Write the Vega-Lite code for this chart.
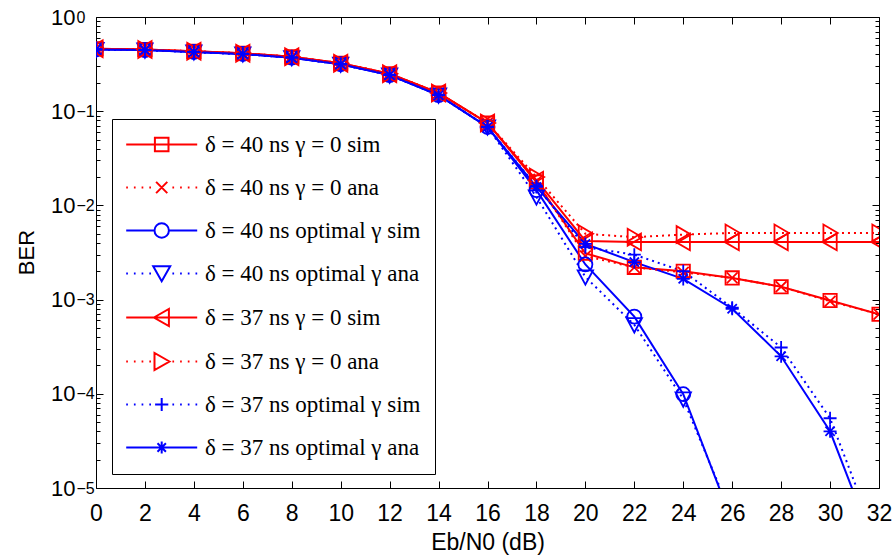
{
  "$schema": "https://vega.github.io/schema/vega-lite/v6.json",
  "width": 783,
  "height": 471,
  "autosize": {"type": "none"},
  "padding": {"left": 96, "top": 17, "right": 17, "bottom": 68},
  "background": "white",
  "config": {
    "view": {"stroke": "black", "strokeWidth": 1},
    "axis": {
      "grid": false,
      "domain": false,
      "labelFont": "Liberation Sans",
      "labelFontSize": 22,
      "labelColor": "black",
      "titleFont": "Liberation Sans",
      "titleFontSize": 23,
      "titleFontWeight": "normal",
      "titleColor": "black",
      "tickColor": "black",
      "tickWidth": 1,
      "labelFlush": false,
      "labelOverlap": false,
      "labelBound": false
    }
  },
  "datasets": {
    "d": [
      {"s": "δ=40 ns γ=0 sim", "x": 0, "y": 0.46},
      {"s": "δ=40 ns γ=0 sim", "x": 2, "y": 0.452},
      {"s": "δ=40 ns γ=0 sim", "x": 4, "y": 0.432},
      {"s": "δ=40 ns γ=0 sim", "x": 6, "y": 0.412},
      {"s": "δ=40 ns γ=0 sim", "x": 8, "y": 0.378},
      {"s": "δ=40 ns γ=0 sim", "x": 10, "y": 0.323},
      {"s": "δ=40 ns γ=0 sim", "x": 12, "y": 0.25},
      {"s": "δ=40 ns γ=0 sim", "x": 14, "y": 0.156},
      {"s": "δ=40 ns γ=0 sim", "x": 16, "y": 0.075},
      {"s": "δ=40 ns γ=0 sim", "x": 18, "y": 0.0177},
      {"s": "δ=40 ns γ=0 sim", "x": 20, "y": 0.0031},
      {"s": "δ=40 ns γ=0 sim", "x": 22, "y": 0.0022},
      {"s": "δ=40 ns γ=0 sim", "x": 24, "y": 0.002},
      {"s": "δ=40 ns γ=0 sim", "x": 26, "y": 0.0017},
      {"s": "δ=40 ns γ=0 sim", "x": 28, "y": 0.00137},
      {"s": "δ=40 ns γ=0 sim", "x": 30, "y": 0.00098},
      {"s": "δ=40 ns γ=0 sim", "x": 32, "y": 0.0007},

      {"s": "δ=40 ns γ=0 ana", "x": 0, "y": 0.46},
      {"s": "δ=40 ns γ=0 ana", "x": 2, "y": 0.452},
      {"s": "δ=40 ns γ=0 ana", "x": 4, "y": 0.432},
      {"s": "δ=40 ns γ=0 ana", "x": 6, "y": 0.412},
      {"s": "δ=40 ns γ=0 ana", "x": 8, "y": 0.378},
      {"s": "δ=40 ns γ=0 ana", "x": 10, "y": 0.323},
      {"s": "δ=40 ns γ=0 ana", "x": 12, "y": 0.25},
      {"s": "δ=40 ns γ=0 ana", "x": 14, "y": 0.156},
      {"s": "δ=40 ns γ=0 ana", "x": 16, "y": 0.075},
      {"s": "δ=40 ns γ=0 ana", "x": 18, "y": 0.018},
      {"s": "δ=40 ns γ=0 ana", "x": 20, "y": 0.0029},
      {"s": "δ=40 ns γ=0 ana", "x": 22, "y": 0.0022},
      {"s": "δ=40 ns γ=0 ana", "x": 24, "y": 0.00195},
      {"s": "δ=40 ns γ=0 ana", "x": 26, "y": 0.0017},
      {"s": "δ=40 ns γ=0 ana", "x": 28, "y": 0.00137},
      {"s": "δ=40 ns γ=0 ana", "x": 30, "y": 0.00096},
      {"s": "δ=40 ns γ=0 ana", "x": 32, "y": 0.0007},

      {"s": "δ=40 ns optimal γ sim", "x": 0, "y": 0.452},
      {"s": "δ=40 ns optimal γ sim", "x": 2, "y": 0.445},
      {"s": "δ=40 ns optimal γ sim", "x": 4, "y": 0.425},
      {"s": "δ=40 ns optimal γ sim", "x": 6, "y": 0.405},
      {"s": "δ=40 ns optimal γ sim", "x": 8, "y": 0.37},
      {"s": "δ=40 ns optimal γ sim", "x": 10, "y": 0.315},
      {"s": "δ=40 ns optimal γ sim", "x": 12, "y": 0.242},
      {"s": "δ=40 ns optimal γ sim", "x": 14, "y": 0.148},
      {"s": "δ=40 ns optimal γ sim", "x": 16, "y": 0.068},
      {"s": "δ=40 ns optimal γ sim", "x": 18, "y": 0.0145},
      {"s": "δ=40 ns optimal γ sim", "x": 20, "y": 0.00236},
      {"s": "δ=40 ns optimal γ sim", "x": 22, "y": 0.00066},
      {"s": "δ=40 ns optimal γ sim", "x": 24, "y": 0.000099},
      {"s": "δ=40 ns optimal γ sim", "x": 26, "y": 0.0000044},

      {"s": "δ=40 ns optimal γ ana", "x": 0, "y": 0.452},
      {"s": "δ=40 ns optimal γ ana", "x": 2, "y": 0.445},
      {"s": "δ=40 ns optimal γ ana", "x": 4, "y": 0.425},
      {"s": "δ=40 ns optimal γ ana", "x": 6, "y": 0.405},
      {"s": "δ=40 ns optimal γ ana", "x": 8, "y": 0.37},
      {"s": "δ=40 ns optimal γ ana", "x": 10, "y": 0.315},
      {"s": "δ=40 ns optimal γ ana", "x": 12, "y": 0.242},
      {"s": "δ=40 ns optimal γ ana", "x": 14, "y": 0.148},
      {"s": "δ=40 ns optimal γ ana", "x": 16, "y": 0.068},
      {"s": "δ=40 ns optimal γ ana", "x": 18, "y": 0.0123},
      {"s": "δ=40 ns optimal γ ana", "x": 20, "y": 0.00174},
      {"s": "δ=40 ns optimal γ ana", "x": 22, "y": 0.00054},
      {"s": "δ=40 ns optimal γ ana", "x": 24, "y": 0.000088},
      {"s": "δ=40 ns optimal γ ana", "x": 26, "y": 0.0000049},

      {"s": "δ=37 ns γ=0 sim", "x": 0, "y": 0.46},
      {"s": "δ=37 ns γ=0 sim", "x": 2, "y": 0.452},
      {"s": "δ=37 ns γ=0 sim", "x": 4, "y": 0.432},
      {"s": "δ=37 ns γ=0 sim", "x": 6, "y": 0.412},
      {"s": "δ=37 ns γ=0 sim", "x": 8, "y": 0.378},
      {"s": "δ=37 ns γ=0 sim", "x": 10, "y": 0.323},
      {"s": "δ=37 ns γ=0 sim", "x": 12, "y": 0.25},
      {"s": "δ=37 ns γ=0 sim", "x": 14, "y": 0.156},
      {"s": "δ=37 ns γ=0 sim", "x": 16, "y": 0.075},
      {"s": "δ=37 ns γ=0 sim", "x": 18, "y": 0.0185},
      {"s": "δ=37 ns γ=0 sim", "x": 20, "y": 0.0042},
      {"s": "δ=37 ns γ=0 sim", "x": 22, "y": 0.0041},
      {"s": "δ=37 ns γ=0 sim", "x": 24, "y": 0.0041},
      {"s": "δ=37 ns γ=0 sim", "x": 26, "y": 0.0041},
      {"s": "δ=37 ns γ=0 sim", "x": 28, "y": 0.0041},
      {"s": "δ=37 ns γ=0 sim", "x": 30, "y": 0.0041},
      {"s": "δ=37 ns γ=0 sim", "x": 32, "y": 0.0041},

      {"s": "δ=37 ns γ=0 ana", "x": 0, "y": 0.46},
      {"s": "δ=37 ns γ=0 ana", "x": 2, "y": 0.452},
      {"s": "δ=37 ns γ=0 ana", "x": 4, "y": 0.432},
      {"s": "δ=37 ns γ=0 ana", "x": 6, "y": 0.412},
      {"s": "δ=37 ns γ=0 ana", "x": 8, "y": 0.378},
      {"s": "δ=37 ns γ=0 ana", "x": 10, "y": 0.323},
      {"s": "δ=37 ns γ=0 ana", "x": 12, "y": 0.25},
      {"s": "δ=37 ns γ=0 ana", "x": 14, "y": 0.156},
      {"s": "δ=37 ns γ=0 ana", "x": 16, "y": 0.075},
      {"s": "δ=37 ns γ=0 ana", "x": 18, "y": 0.02},
      {"s": "δ=37 ns γ=0 ana", "x": 20, "y": 0.005},
      {"s": "δ=37 ns γ=0 ana", "x": 22, "y": 0.0046},
      {"s": "δ=37 ns γ=0 ana", "x": 24, "y": 0.0049},
      {"s": "δ=37 ns γ=0 ana", "x": 26, "y": 0.0051},
      {"s": "δ=37 ns γ=0 ana", "x": 28, "y": 0.0051},
      {"s": "δ=37 ns γ=0 ana", "x": 30, "y": 0.0051},
      {"s": "δ=37 ns γ=0 ana", "x": 32, "y": 0.0051},

      {"s": "δ=37 ns optimal γ sim", "x": 0, "y": 0.452},
      {"s": "δ=37 ns optimal γ sim", "x": 2, "y": 0.445},
      {"s": "δ=37 ns optimal γ sim", "x": 4, "y": 0.425},
      {"s": "δ=37 ns optimal γ sim", "x": 6, "y": 0.405},
      {"s": "δ=37 ns optimal γ sim", "x": 8, "y": 0.37},
      {"s": "δ=37 ns optimal γ sim", "x": 10, "y": 0.315},
      {"s": "δ=37 ns optimal γ sim", "x": 12, "y": 0.242},
      {"s": "δ=37 ns optimal γ sim", "x": 14, "y": 0.148},
      {"s": "δ=37 ns optimal γ sim", "x": 16, "y": 0.068},
      {"s": "δ=37 ns optimal γ sim", "x": 18, "y": 0.016},
      {"s": "δ=37 ns optimal γ sim", "x": 20, "y": 0.0036},
      {"s": "δ=37 ns optimal γ sim", "x": 22, "y": 0.003},
      {"s": "δ=37 ns optimal γ sim", "x": 24, "y": 0.002},
      {"s": "δ=37 ns optimal γ sim", "x": 26, "y": 0.00082},
      {"s": "δ=37 ns optimal γ sim", "x": 28, "y": 0.00031},
      {"s": "δ=37 ns optimal γ sim", "x": 30, "y": 0.000055},
      {"s": "δ=37 ns optimal γ sim", "x": 32, "y": 0.0000024},

      {"s": "δ=37 ns optimal γ ana", "x": 0, "y": 0.452},
      {"s": "δ=37 ns optimal γ ana", "x": 2, "y": 0.445},
      {"s": "δ=37 ns optimal γ ana", "x": 4, "y": 0.425},
      {"s": "δ=37 ns optimal γ ana", "x": 6, "y": 0.405},
      {"s": "δ=37 ns optimal γ ana", "x": 8, "y": 0.37},
      {"s": "δ=37 ns optimal γ ana", "x": 10, "y": 0.315},
      {"s": "δ=37 ns optimal γ ana", "x": 12, "y": 0.242},
      {"s": "δ=37 ns optimal γ ana", "x": 14, "y": 0.148},
      {"s": "δ=37 ns optimal γ ana", "x": 16, "y": 0.068},
      {"s": "δ=37 ns optimal γ ana", "x": 18, "y": 0.0157},
      {"s": "δ=37 ns optimal γ ana", "x": 20, "y": 0.0039},
      {"s": "δ=37 ns optimal γ ana", "x": 22, "y": 0.0025},
      {"s": "δ=37 ns optimal γ ana", "x": 24, "y": 0.00166},
      {"s": "δ=37 ns optimal γ ana", "x": 26, "y": 0.0008},
      {"s": "δ=37 ns optimal γ ana", "x": 28, "y": 0.00025},
      {"s": "δ=37 ns optimal γ ana", "x": 30, "y": 0.00004},
      {"s": "δ=37 ns optimal γ ana", "x": 32, "y": 0.0000018}
    ]
  },
  "data": {"name": "d"},
  "resolve": {"axis": {"x": "independent", "y": "independent"}, "scale": {"color": "independent", "shape": "independent"}},
  "layer": [
    {
      "transform": [{"filter": {"field": "s", "oneOf": ["δ=40 ns γ=0 sim", "δ=40 ns optimal γ sim", "δ=37 ns γ=0 sim", "δ=37 ns optimal γ ana"]}}],
      "mark": {"type": "line", "clip": true, "strokeWidth": 2},
      "encoding": {
        "x": {"field": "x", "type": "quantitative",
              "scale": {"domain": [0, 32], "nice": false, "zero": false},
              "axis": {"orient": "bottom", "values": [0,2,4,6,8,10,12,14,16,18,20,22,24,26,28,30,32], "ticks": false, "labelPadding": 14.3, "labelFontSize": 23,
                       "title": "Eb/N0 (dB)", "titleBaseline": "alphabetic", "titleY": 61}},
        "y": {"field": "y", "type": "quantitative",
              "scale": {"type": "log", "domain": [0.00001, 1], "nice": false},
              "axis": {"orient": "left", "values": [0.00001, 0.0001, 0.001, 0.01, 0.1, 1], "ticks": false, "labelExpr": "'10'", "labelPadding": 21, "labelDy": 2,
                       "title": "BER", "titleFontSize": 22, "titleX": -70, "titleY": 235, "titleBaseline": "middle", "titleAlign": "center"}},
        "color": {"field": "s", "type": "nominal", "legend": null,
                  "scale": {"domain": ["δ=40 ns γ=0 sim", "δ=40 ns γ=0 ana", "δ=40 ns optimal γ sim", "δ=40 ns optimal γ ana", "δ=37 ns γ=0 sim", "δ=37 ns γ=0 ana", "δ=37 ns optimal γ sim", "δ=37 ns optimal γ ana"],
                            "range": ["#ff0000", "#ff0000", "#0000ff", "#0000ff", "#ff0000", "#ff0000", "#0000ff", "#0000ff"]}}
      }
    },
    {
      "transform": [{"filter": {"field": "s", "oneOf": ["δ=40 ns γ=0 ana", "δ=40 ns optimal γ ana", "δ=37 ns γ=0 ana", "δ=37 ns optimal γ sim"]}}],
      "mark": {"type": "line", "clip": true, "strokeWidth": 2, "strokeDash": [2, 4]},
      "encoding": {
        "x": {"field": "x", "type": "quantitative",
              "scale": {"domain": [0, 32], "nice": false, "zero": false},
              "axis": {"orient": "top", "values": [0,2,4,6,8,10,12,14,16,18,20,22,24,26,28,30,32], "labels": false, "tickSize": -7, "title": null}},
        "y": {"field": "y", "type": "quantitative",
              "scale": {"type": "log", "domain": [0.00001, 1], "nice": false},
              "axis": {"orient": "right", "values": [0.00001, 0.0001, 0.001, 0.01, 0.1, 1], "labels": false, "tickSize": -7, "title": null}},
        "color": {"field": "s", "type": "nominal", "legend": null,
                  "scale": {"domain": ["δ=40 ns γ=0 sim", "δ=40 ns γ=0 ana", "δ=40 ns optimal γ sim", "δ=40 ns optimal γ ana", "δ=37 ns γ=0 sim", "δ=37 ns γ=0 ana", "δ=37 ns optimal γ sim", "δ=37 ns optimal γ ana"],
                            "range": ["#ff0000", "#ff0000", "#0000ff", "#0000ff", "#ff0000", "#ff0000", "#0000ff", "#0000ff"]}}
      }
    },
    {
      "mark": {"type": "point", "clip": true, "filled": false, "opacity": 1, "size": 196, "strokeWidth": 1.8},
      "encoding": {
        "x": {"field": "x", "type": "quantitative",
              "scale": {"domain": [0, 32], "nice": false, "zero": false},
              "axis": {"orient": "bottom", "values": [0,2,4,6,8,10,12,14,16,18,20,22,24,26,28,30,32], "labels": false, "tickSize": -7, "title": null}},
        "y": {"field": "y", "type": "quantitative",
              "scale": {"type": "log", "domain": [0.00001, 1], "nice": false},
              "axis": {"orient": "left", "values": [0.00001, 0.0001, 0.001, 0.01, 0.1, 1], "ticks": false,
                       "labelExpr": "datum.value >= 1 ? '0' : '−' + round(-log(datum.value)/LN10)",
                       "labelAlign": "left", "labelPadding": 20, "labelFontSize": 16, "labelDy": -10, "title": null}},
        "color": {"field": "s", "type": "nominal", "legend": null,
                  "scale": {"domain": ["δ=40 ns γ=0 sim", "δ=40 ns γ=0 ana", "δ=40 ns optimal γ sim", "δ=40 ns optimal γ ana", "δ=37 ns γ=0 sim", "δ=37 ns γ=0 ana", "δ=37 ns optimal γ sim", "δ=37 ns optimal γ ana"],
                            "range": ["#ff0000", "#ff0000", "#0000ff", "#0000ff", "#ff0000", "#ff0000", "#0000ff", "#0000ff"]}},
        "shape": {"field": "s", "type": "nominal", "legend": null,
                  "scale": {"domain": ["δ=40 ns γ=0 sim", "δ=40 ns γ=0 ana", "δ=40 ns optimal γ sim", "δ=40 ns optimal γ ana", "δ=37 ns γ=0 sim", "δ=37 ns γ=0 ana", "δ=37 ns optimal γ sim", "δ=37 ns optimal γ ana"],
                            "range": ["M-0.95,-0.95H0.95V0.95H-0.95Z", "M-0.78,-0.78L0.78,0.78M-0.78,0.78L0.78,-0.78", "M1,0A1,1,0,1,1,-1,0A1,1,0,1,1,1,0Z", "M-1.1,-0.95H1.1L0,1.1Z", "M-1.1,0L0.95,-1.2V1.2Z", "M1.1,0L-0.95,-1.2V1.2Z", "M-0.93,0H0.93M0,-0.93V0.93", "M-0.93,0H0.93M0,-0.93V0.93M-0.66,-0.66L0.66,0.66M-0.66,0.66L0.66,-0.66"]}}
      }
    },
    {
      "transform": [{"filter": {"field": "x", "equal": 0}}],
      "mark": {"type": "point", "filled": false, "opacity": 0, "size": 400, "strokeWidth": 2},
      "encoding": {
        "x": {"field": "x", "type": "quantitative", "scale": {"domain": [0, 32], "nice": false, "zero": false}, "axis": null},
        "y": {"field": "y", "type": "quantitative", "scale": {"type": "log", "domain": [0.00001, 1], "nice": false}, "axis": null},
        "color": {"field": "s", "type": "nominal",
                  "scale": {"domain": ["δ=40 ns γ=0 sim", "δ=40 ns γ=0 ana", "δ=40 ns optimal γ sim", "δ=40 ns optimal γ ana", "δ=37 ns γ=0 sim", "δ=37 ns γ=0 ana", "δ=37 ns optimal γ sim", "δ=37 ns optimal γ ana"],
                            "range": ["#ff0000", "#ff0000", "#0000ff", "#0000ff", "#ff0000", "#ff0000", "#0000ff", "#0000ff"]},
                  "legend": {"title": null, "orient": "none", "legendX": 16, "legendY": 102,
                             "strokeColor": "black", "fillColor": "white", "padding": 14,
                             "symbolSize": 400, "symbolStrokeWidth": 2, "symbolOpacity": 1, "symbolFillColor": "transparent",
                             "symbolOffset": 24.2, "labelOffset": 31.8, "rowPadding": 19,
                             "labelFont": "Liberation Serif", "labelFontSize": 23, "labelColor": "black", "labelLimit": 600,
                             "labelExpr": "join(split(datum.label, '='), ' = ') + '\u00a0\u00a0\u00a0\u00a0\u00a0'"}},
        "shape": {"field": "s", "type": "nominal",
                  "scale": {"domain": ["δ=40 ns γ=0 sim", "δ=40 ns γ=0 ana", "δ=40 ns optimal γ sim", "δ=40 ns optimal γ ana", "δ=37 ns γ=0 sim", "δ=37 ns γ=0 ana", "δ=37 ns optimal γ sim", "δ=37 ns optimal γ ana"],
                            "range": ["M-3.55,0H3.55M-0.68,-0.68H0.68V0.68H-0.68Z", "M-3.55,0H-3.38M-2.78,0H-2.61M-2.01,0H-1.84M-1.24,0H-1.07M1.07,0H1.24M1.84,0H2.01M2.61,0H2.78M3.38,0H3.55M-0.56,-0.56L0.56,0.56M-0.56,0.56L0.56,-0.56", "M-3.55,0H-0.72M0.72,0H3.55M0.72,0A0.72,0.72,0,1,1,-0.72,0A0.72,0.72,0,1,1,0.72,0Z", "M-3.55,0H-3.38M-2.78,0H-2.61M-2.01,0H-1.84M-1.24,0H-1.07M1.07,0H1.24M1.84,0H2.01M2.61,0H2.78M3.38,0H3.55M-0.85,-0.72H0.85L0,0.78Z", "M-3.55,0H3.55M-0.78,0L0.72,-0.85V0.85Z", "M-3.55,0H-3.38M-2.78,0H-2.61M-2.01,0H-1.84M-1.24,0H-1.07M1.07,0H1.24M1.84,0H2.01M2.61,0H2.78M3.38,0H3.55M0.78,0L-0.72,-0.85V0.85Z", "M-3.55,0H-3.38M-2.78,0H-2.61M-2.01,0H-1.84M-1.24,0H-1.07M1.07,0H1.24M1.84,0H2.01M2.61,0H2.78M3.38,0H3.55M-0.66,0H0.66M0,-0.66V0.66", "M-3.55,0H3.55M0,-0.6V0.6M-0.42,-0.42L0.42,0.42M-0.42,0.42L0.42,-0.42"]},
                  "legend": {"title": null, "orient": "none", "legendX": 16, "legendY": 102,
                             "strokeColor": "black", "fillColor": "white", "padding": 14,
                             "symbolSize": 400, "symbolStrokeWidth": 2, "symbolOpacity": 1, "symbolFillColor": "transparent",
                             "symbolOffset": 24.2, "labelOffset": 31.8, "rowPadding": 19,
                             "labelFont": "Liberation Serif", "labelFontSize": 23, "labelColor": "black", "labelLimit": 600,
                             "labelExpr": "join(split(datum.label, '='), ' = ') + '\u00a0\u00a0\u00a0\u00a0\u00a0'"}}
      }
    },
    {
      "transform": [{"filter": {"field": "x", "equal": 0}}],
      "mark": {"type": "point", "opacity": 0},
      "encoding": {
        "x": {"field": "x", "type": "quantitative", "scale": {"domain": [0, 32], "nice": false, "zero": false}, "axis": null},
        "y": {"field": "y", "type": "quantitative", "scale": {"type": "log", "domain": [0.00001, 1], "nice": false},
              "axis": {"orient": "left", "values": [0.00001, 0.0001, 0.001, 0.01, 0.1, 1], "labels": false, "tickSize": -7, "title": null}}
      }
    },
    {
      "transform": [{"filter": {"field": "x", "equal": 0}}],
      "mark": {"type": "point", "opacity": 0},
      "encoding": {
        "x": {"field": "x", "type": "quantitative", "scale": {"domain": [0, 32], "nice": false, "zero": false}, "axis": null},
        "y": {"field": "y", "type": "quantitative", "scale": {"type": "log", "domain": [0.00001, 1], "nice": false},
              "axis": {"orient": "left", "values": [0.00002,0.00003,0.00004,0.00005,0.00006,0.00007,0.00008,0.00009,0.0002,0.0003,0.0004,0.0005,0.0006,0.0007,0.0008,0.0009,0.002,0.003,0.004,0.005,0.006,0.007,0.008,0.009,0.02,0.03,0.04,0.05,0.06,0.07,0.08,0.09,0.2,0.3,0.4,0.5,0.6,0.7,0.8,0.9], "labels": false, "tickSize": -4, "title": null}}
      }
    },
    {
      "transform": [{"filter": {"field": "x", "equal": 0}}],
      "mark": {"type": "point", "opacity": 0},
      "encoding": {
        "x": {"field": "x", "type": "quantitative", "scale": {"domain": [0, 32], "nice": false, "zero": false}, "axis": null},
        "y": {"field": "y", "type": "quantitative", "scale": {"type": "log", "domain": [0.00001, 1], "nice": false},
              "axis": {"orient": "right", "values": [0.00002,0.00003,0.00004,0.00005,0.00006,0.00007,0.00008,0.00009,0.0002,0.0003,0.0004,0.0005,0.0006,0.0007,0.0008,0.0009,0.002,0.003,0.004,0.005,0.006,0.007,0.008,0.009,0.02,0.03,0.04,0.05,0.06,0.07,0.08,0.09,0.2,0.3,0.4,0.5,0.6,0.7,0.8,0.9], "labels": false, "tickSize": -4, "title": null}}
      }
    }
  ]
}
